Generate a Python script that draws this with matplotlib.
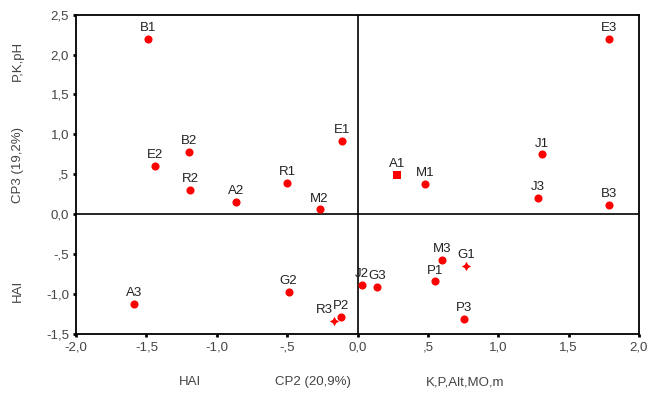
import matplotlib
matplotlib.use("Agg")
import matplotlib.pyplot as plt
from matplotlib.ticker import FixedLocator, FuncFormatter

labels = ["B1", "E2", "B2", "R2", "A2", "R1", "M2", "E1", "A1", "M1", "J1", "E3",
          "J3", "B3", "M3", "G1", "P1", "J2", "G3", "P3", "R3", "P2", "G2", "A3"]
cp2 = [-1.49, -1.44, -1.20, -1.19, -0.86, -0.50, -0.27, -0.11, 0.28, 0.48, 1.31, 1.79,
       1.28, 1.79, 0.60, 0.77, 0.55, 0.03, 0.14, 0.76, -0.17, -0.12, -0.49, -1.59]
cp3 = [2.19, 0.61, 0.78, 0.30, 0.16, 0.39, 0.06, 0.92, 0.49, 0.38, 0.75, 2.20,
       0.20, 0.12, -0.57, -0.65, -0.84, -0.88, -0.91, -1.31, -1.33, -1.29, -0.97, -1.12]
markers = ["o"] * len(labels)
markers[labels.index("A1")] = "s"
markers[labels.index("G1")] = (4, 1, 0)
markers[labels.index("R3")] = (4, 1, 0)

xticks = [-2.0, -1.5, -1.0, -0.5, 0.0, 0.5, 1.0, 1.5, 2.0]
yticks = [-1.5, -1.0, -0.5, 0.0, 0.5, 1.0, 1.5, 2.0, 2.5]

plt.rcParams['font.family'] = ['Liberation Sans', 'DejaVu Sans']

fig = plt.figure(figsize=(6.5, 3.94), dpi=100)
ax = fig.add_axes([0.117, 0.152, 0.866, 0.811])
ax.set_xlim(-2, 2)
ax.set_ylim(-1.5, 2.5)

ax.axhline(0, color='black', lw=1.2, zorder=1)
ax.axvline(0, color='black', lw=1.2, zorder=1)

for lab, x, y, m in zip(labels, cp2, cp3, markers):
    size = 45 if isinstance(m, tuple) else 34
    ax.scatter([x], [y], s=size, color='#ff0000', marker=m, zorder=3, linewidths=0)
    if lab == "R3":
        ax.annotate(lab, (x, y), xytext=(-0.5, 3.5), textcoords='offset points',
                    ha='right', va='bottom', fontsize=9.5, color='#222222')
    else:
        ax.annotate(lab, (x, y), xytext=(0, 3.5), textcoords='offset points',
                    ha='center', va='bottom', fontsize=9.5, color='#222222')


def fmt(v, pos):
    s = "%.1f" % v
    if s.startswith("0.") and v != 0:
        s = s[1:]
    elif s.startswith("-0.") and v != 0:
        s = "-" + s[2:]
    return s.replace(".", ",")


ax.xaxis.set_major_locator(FixedLocator(xticks))
ax.yaxis.set_major_locator(FixedLocator(yticks))
ax.xaxis.set_major_formatter(FuncFormatter(fmt))
ax.yaxis.set_major_formatter(FuncFormatter(fmt))
ax.tick_params(direction='out', length=2, width=2, labelsize=9.5, labelcolor='#444444',
               pad=3)
for s in ax.spines.values():
    s.set_linewidth(1.3)

tc = '#444444'
fig.text(0.292, 0.03, "HAI", fontsize=9.5, color=tc, ha='center', va='center')
fig.text(0.482, 0.03, "CP2 (20,9%)", fontsize=9.5, color=tc, ha='center', va='center')
fig.text(0.715, 0.03, "K,P,Alt,MO,m", fontsize=9.5, color=tc, ha='center', va='center')
fig.text(0.028, 0.263, "HAI", fontsize=9.5, color=tc, ha='center', va='center', rotation=90)
fig.text(0.028, 0.58, "CP3 (19,2%)", fontsize=9.5, color=tc, ha='center', va='center', rotation=90)
fig.text(0.028, 0.845, "P,K,pH", fontsize=9.5, color=tc, ha='center', va='center', rotation=90)

fig.savefig("out.png", dpi=100, facecolor='white')
